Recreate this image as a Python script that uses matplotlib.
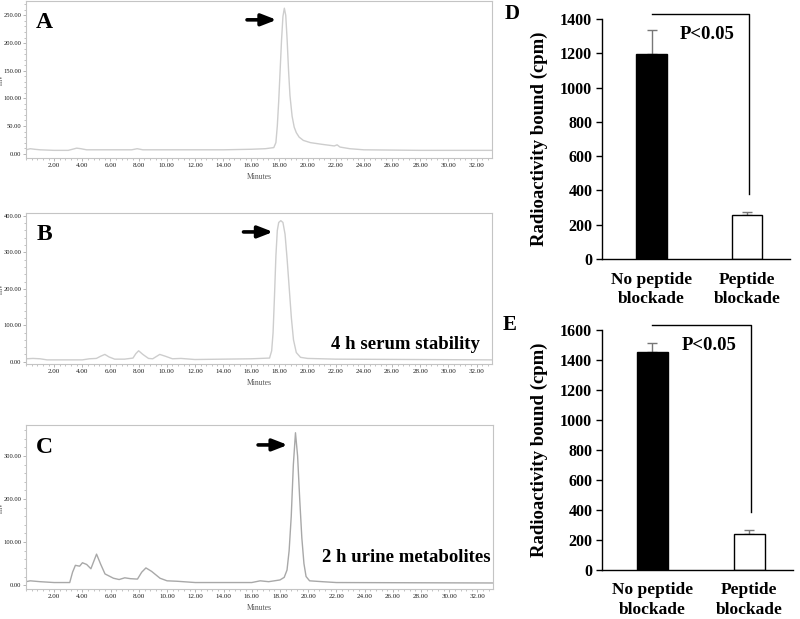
"""HPLC radio-chromatograms (A-C) and receptor blocking assays (D-E)."""
import matplotlib
matplotlib.use("Agg")
import matplotlib.pyplot as plt
from matplotlib.ticker import AutoMinorLocator, FormatStrFormatter, MultipleLocator

plt.rcParams["font.family"] = ["Liberation Serif", "DejaVu Serif"]

# chromatogram traces: retention time (min), signal (mV)
A_TIME = [0.0, 0.3, 0.6, 1.0, 2.0, 3.0, 3.3, 3.6, 3.9, 4.3, 5.0, 7.5, 7.9, 8.3,
          10.0, 14.0, 16.0, 17.0, 17.6, 17.75, 17.85, 17.95, 18.05, 18.15, 18.25,
          18.35, 18.45, 18.55, 18.65, 18.75, 18.9, 19.05, 19.2, 19.4, 19.7, 20.2,
          21.0, 21.9, 22.1, 22.3, 23.0, 24.0, 28.0, 33.1]
A_MV = [7, 9, 8, 7, 6, 6, 8, 10, 9, 7, 7, 7, 9, 7,
        7, 7, 8, 9, 11, 20, 50, 95, 150, 205, 248,
        263, 250, 205, 150, 105, 68, 48, 38, 30, 24, 20,
        17, 14, 16, 12, 9, 7, 6, 6]

B_TIME = [0.0, 0.5, 1.0, 1.5, 2.0, 4.0, 4.5, 5.0, 5.3, 5.6, 5.9, 6.3, 7.0, 7.6,
          7.8, 8.0, 8.3, 8.7, 9.0, 9.5, 9.9, 10.4, 11.0, 12.0, 16.0, 17.3, 17.45,
          17.55, 17.65, 17.75, 17.85, 17.95, 18.1, 18.25, 18.4, 18.55, 18.7, 18.85,
          19.0, 19.2, 19.5, 20.0, 22.0, 33.1]
B_MV = [8, 9, 8, 5, 5, 5, 8, 9, 15, 20, 13, 7, 7, 10,
        22, 30, 20, 9, 8, 20, 15, 8, 9, 6, 8, 10, 30,
        80, 180, 290, 360, 382, 387, 382, 350, 280, 200, 120,
        60, 25, 12, 9, 7, 5]

C_TIME = [0.0, 0.3, 1.0, 2.0, 3.1, 3.3, 3.5, 3.8, 4.0, 4.3, 4.6, 4.8, 5.0, 5.3,
          5.6, 6.2, 6.6, 7.0, 7.4, 7.9, 8.2, 8.5, 8.9, 9.5, 10.0, 10.7, 12.0, 16.0,
          16.6, 17.2, 18.0, 18.3, 18.5, 18.65, 18.8, 18.95, 19.1, 19.25, 19.4,
          19.55, 19.7, 19.85, 20.1, 21.0, 22.0, 33.1]
C_MV = [8, 10, 8, 6, 6, 30, 46, 44, 52, 48, 38, 55, 72, 48,
        26, 16, 13, 17, 15, 14, 30, 40, 32, 16, 10, 9, 6, 6,
        10, 8, 12, 18, 35, 80, 160, 280, 354, 300, 200,
        110, 50, 20, 10, 8, 6, 5]

# binding assays
GROUPS = ["No peptide\nblockade", "Peptide\nblockade"]
D_MEAN = [1195, 255]
D_ERR = [140, 22]
E_MEAN = [1455, 240]
E_ERR = [58, 28]

W, H = 800, 619


def fig_box(left, top, right, bottom):
    return [left / W, 1 - bottom / H, (right - left) / W, (bottom - top) / H]


def chromatogram(fig, box, t, mv, ylim, ystep, letter, note, note_xy, line_color):
    ax = fig.add_axes(box)
    ax.plot(t, mv, color=line_color, lw=1.0)
    ax.set_xlim(0, 33.1)
    ax.set_ylim(*ylim)
    ax.xaxis.set_major_locator(MultipleLocator(2))
    ax.xaxis.set_major_formatter(FormatStrFormatter("%.2f"))
    ax.yaxis.set_major_locator(MultipleLocator(ystep))
    ax.yaxis.set_major_formatter(FormatStrFormatter("%.2f"))
    ax.xaxis.set_minor_locator(AutoMinorLocator(5))
    ax.yaxis.set_minor_locator(AutoMinorLocator(5))
    ax.set_xticks([v for v in ax.get_xticks() if 1 < v < 33])
    ax.set_yticks([v for v in ax.get_yticks() if 0 <= v <= ylim[1]])
    ax.tick_params(which="both", direction="out", color="#aaaaaa",
                   labelsize=4.7, labelcolor="#1a1a1a", pad=0.8)
    ax.tick_params(axis="x", labelsize=5.0, pad=1.0)
    ax.tick_params(which="major", length=2.4, width=0.6)
    ax.tick_params(which="minor", length=1.5, width=0.5)
    for s in ax.spines.values():
        s.set_color("#c4c4c4")
        s.set_linewidth(0.8)
    ax.set_xlabel("Minutes", fontsize=5.5, color="#555555", labelpad=3.5)
    ax.set_ylabel("mV", fontsize=5.5, color="#555555")
    ax.yaxis.set_label_coords(-0.045, 0.5)
    ax.text(0.022, 0.86, letter, transform=ax.transAxes, fontsize=17,
            fontweight="bold", va="center", ha="left")
    # arrow pointing at the main peak
    i = mv.index(max(mv))
    tip = (t[i] - 0.55, max(mv) * 0.92)
    ax.annotate("", xy=tip, xytext=(tip[0] - 2.1, tip[1]),
                arrowprops=dict(arrowstyle="-|>,head_length=0.9,head_width=0.35",
                                lw=2.6, color="black", shrinkA=0, shrinkB=0))
    if note:
        ax.text(*note_xy, note, transform=ax.transAxes, fontsize=13.5,
                fontweight="bold", ha="right", va="center")
    return ax


def blocking(fig, box, mean, err, letter, ymax, bracket_end):
    ax = fig.add_axes(box)
    x = [0, 1]
    ax.bar(x, mean, width=0.32, color=["black", "white"], edgecolor="black",
           linewidth=1.0, zorder=2)
    ax.errorbar(x, mean, yerr=[[0, 0], err], fmt="none", ecolor="#777777",
                elinewidth=1.0, capsize=3.5, capthick=1.0, zorder=1)
    ax.set_xlim(-0.52, 1.45)
    ax.set_ylim(0, ymax)
    ax.yaxis.set_major_locator(MultipleLocator(200))
    ax.set_xticks(x)
    ax.set_xticklabels(GROUPS, fontsize=12.5, fontweight="bold",
                       linespacing=1.3)
    ax.tick_params(axis="x", length=0, pad=9)
    ax.tick_params(axis="y", direction="out", length=4, width=1.0, pad=3,
                   labelsize=11.5)
    for lab in ax.get_yticklabels():
        lab.set_fontweight("bold")
    ax.spines[["top", "right"]].set_visible(False)
    ax.spines["left"].set_linewidth(1.0)
    ax.spines["bottom"].set_linewidth(1.0)
    ax.set_ylabel("Radioactivity bound (cpm)", fontsize=13.5, fontweight="bold",
                  labelpad=9)
    # significance bracket
    top = ymax * 1.022
    ax.plot([0.0, 1.02, 1.02], [top, top, bracket_end],
            color="black", lw=1.0, clip_on=False)
    ax.text(0.585, ymax * 0.935, "P<0.05", fontsize=13.5, fontweight="bold",
            ha="center", va="center")
    ax.text(-0.52, 1.02, letter, transform=ax.transAxes, fontsize=15,
            fontweight="bold", ha="left", va="center")
    return ax


def main() -> None:
    fig = plt.figure(figsize=(8, 6.19), dpi=100)

    chromatogram(fig, fig_box(26, 1, 492, 158), A_TIME, A_MV, (-7.8, 276),
                 50, "A", None, None, "#cdcdcd")
    chromatogram(fig, fig_box(26, 213, 492, 364), B_TIME, B_MV, (-6.3, 408),
                 100, "B", "4 h serum stability", (0.974, 0.126), "#cdcdcd")
    chromatogram(fig, fig_box(26, 425, 493, 589), C_TIME, C_MV, (-9, 372),
                 100, "C", "2 h urine metabolites", (0.994, 0.195), "#a8a8a8")

    blocking(fig, fig_box(602, 19, 790, 259), D_MEAN, D_ERR, "D", 1400, 380)
    blocking(fig, fig_box(602, 330, 793, 570), E_MEAN, E_ERR, "E", 1600, 390)

    fig.savefig("out.png", dpi=100)
    print("saved out.png")


if __name__ == "__main__":
    main()
